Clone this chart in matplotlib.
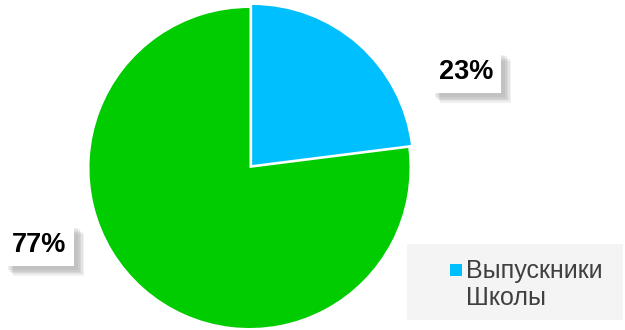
import matplotlib.pyplot as plt
import matplotlib.patheffects as pe
from matplotlib.patches import Rectangle

plt.rcParams['font.family'] = ['Liberation Sans', 'DejaVu Sans']

# data
labels = ["Выпускники\nШколы", "Другие"]
shares = [23, 77]
colors = ["#00BFFF", "#00CC00"]

W, H = 625, 330

fig = plt.figure(figsize=(W / 100, H / 100), dpi=100)
ax = fig.add_axes([0, 0, 1, 1])

# explode is in pixel units here (axes are in pixels)
wedges, _ = ax.pie(shares, colors=colors, startangle=90, counterclock=False,
                   explode=[4, 0], center=(249.5, H - 168), radius=160,
                   frame=True)
ax.set_xlim(0, W)
ax.set_ylim(0, H)
ax.set_aspect("equal")
ax.axis("off")

# soft shadow: several faint offset copies
shadow = [pe.withSimplePatchShadow(offset=(o, -o), shadow_rgbFace="#606060",
                                   alpha=0.09) for o in (7, 6, 5, 4, 3)]
shadow.append(pe.Normal())

label_pos = [(466, H - 72), (39, H - 245)]
for val, (x, y) in zip(shares, label_pos):
    t = ax.text(x, y, f"{val}%", ha="center", va="center", fontsize=19.5,
                fontweight="bold", color="black",
                bbox=dict(boxstyle="square,pad=0.3", fc="white", ec="none"))
    t.get_bbox_patch().set_path_effects(shadow)

# legend (only first entry visible, as in the reference)
ax.add_patch(Rectangle((407, H - 320), 216, 76, facecolor="#F4F4F4",
                       edgecolor="none"))
ax.add_patch(Rectangle((450, H - 276), 12, 12, facecolor=colors[0],
                       edgecolor="none"))
ax.text(466, H - 259, labels[0], ha="left", va="top", fontsize=18,
        color="#404040", linespacing=1.15)

fig.savefig("out.png", dpi=100)
